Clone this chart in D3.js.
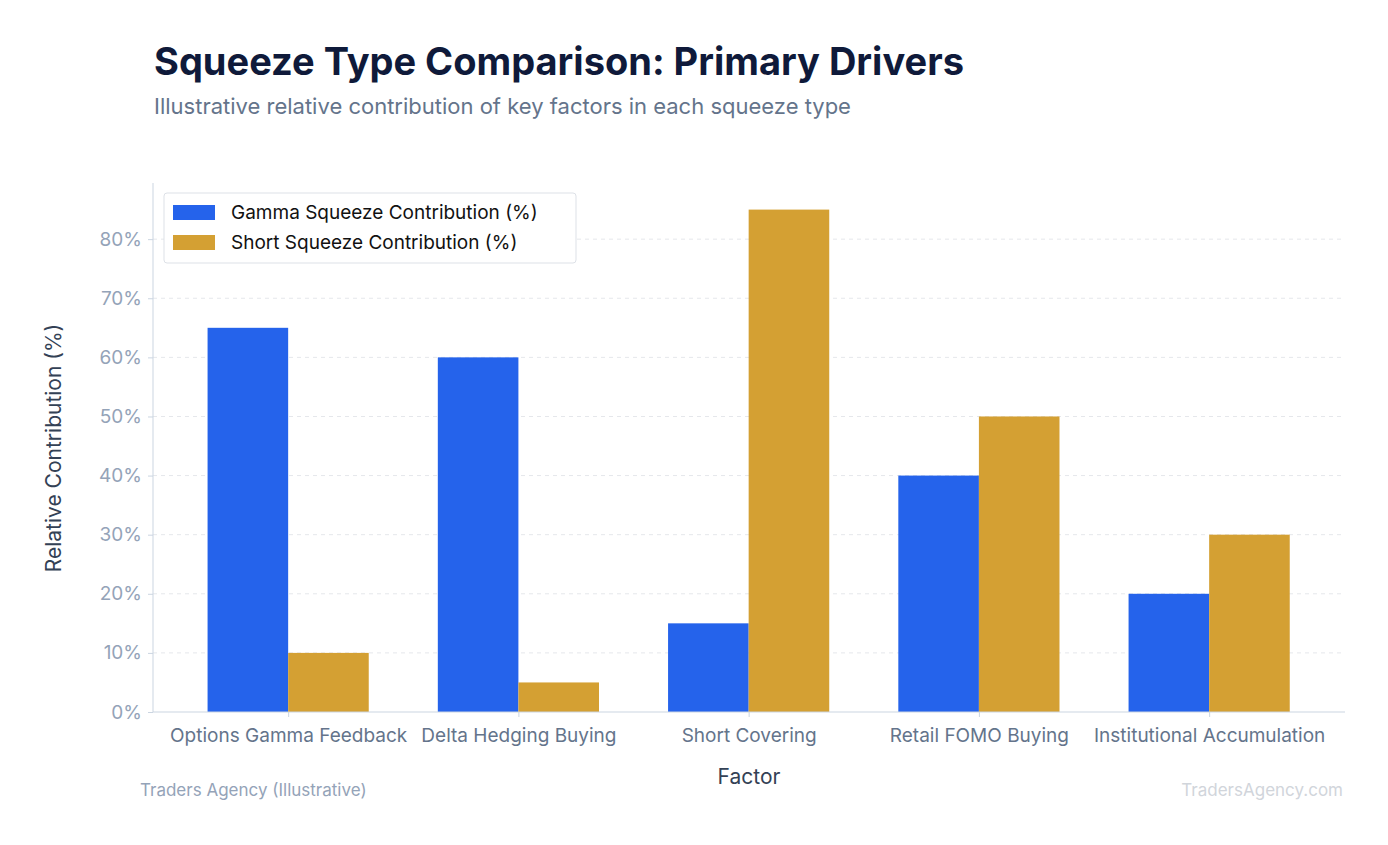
<!DOCTYPE html><html><head><meta charset="utf-8"><script src="https://cdn.jsdelivr.net/npm/d3@7"></script>
<style>body{margin:0;background:#fff}text{font-family:Inter,"DejaVu Sans",sans-serif}</style></head><body>
<svg id="c" width="1388" height="845"></svg>
<script>
const categories=["Options Gamma Feedback","Delta Hedging Buying","Short Covering","Retail FOMO Buying","Institutional Accumulation"];
const gammaValues=[65,60,15,40,20];
const shortValues=[10,5,85,50,30];
const yTicks=[0,10,20,30,40,50,60,70,80];
const seriesNames=["Gamma Squeeze Contribution (%)","Short Squeeze Contribution (%)"];
const colors=["#2563eb","#d4a033"];
const svg=d3.select("#c");
const L=153,R=1345,T=183,B=712;
const x=d3.scaleLinear().domain([-0.587,4.59]).range([L,R]);
const y=d3.scaleLinear().domain([0,89.5]).range([B,T]);
const bw=0.35;
svg.append("text").attr("x",154).attr("y",75).attr("font-size",38).attr("font-weight",700).attr("fill","#0f1a3a").text("Squeeze Type Comparison: Primary Drivers");
svg.append("text").attr("x",154).attr("y",114).attr("font-size",22).attr("fill","#64748b").text("Illustrative relative contribution of key factors in each squeeze type");
svg.append("g").selectAll("line").data(yTicks.slice(1)).join("line").attr("x1",L).attr("x2",R).attr("y1",d=>y(d)).attr("y2",d=>y(d)).attr("stroke","#e5e7eb").attr("stroke-dasharray","4,4");
[gammaValues,shortValues].forEach((vals,s)=>{
 svg.append("g").selectAll("rect").data(vals).join("rect")
 .attr("x",(d,i)=>x(i+(s===0?-bw:0))).attr("width",x(bw)-x(0)).attr("y",d=>y(d)).attr("height",d=>B-y(d)).attr("fill",colors[s]);
});
const ya=svg.append("g").attr("transform",`translate(${L},0)`).call(d3.axisLeft(y).tickValues(yTicks).tickFormat(d=>d+"%").tickSize(5).tickPadding(6));
ya.selectAll("text").attr("font-size",19).attr("fill","#94a3b8");
ya.select(".domain").attr("stroke","#cbd5e1").attr("d",`M0,${T}V${B}`);ya.selectAll(".tick line").attr("stroke","#cbd5e1");
const xa=svg.append("g").attr("transform",`translate(0,${B})`).call(d3.axisBottom(x).tickValues(d3.range(5)).tickFormat(i=>categories[i]).tickSize(5).tickPadding(12));
xa.selectAll("text").attr("font-size",19).attr("fill","#64748b");
xa.select(".domain").attr("stroke","#cbd5e1").attr("d",`M${L},0H${R}`);xa.selectAll(".tick line").attr("stroke","#cbd5e1");
svg.append("text").attr("x",749).attr("y",784).attr("text-anchor","middle").attr("font-size",21).attr("fill","#334155").text("Factor");
svg.append("text").attr("transform","translate(61,448) rotate(-90)").attr("text-anchor","middle").attr("font-size",21).attr("fill","#334155").text("Relative Contribution (%)");
const lg=svg.append("g");
lg.append("rect").attr("x",164).attr("y",193).attr("width",412).attr("height",70).attr("rx",3).attr("fill","#fff").attr("stroke","#dde1e7");
seriesNames.forEach((n,i)=>{lg.append("rect").attr("x",173).attr("y",205+i*30).attr("width",42).attr("height",15).attr("fill",colors[i]);
lg.append("text").attr("x",231).attr("y",219+i*30).attr("font-size",19).attr("fill","#111").text(n);});
svg.append("text").attr("x",140).attr("y",796).attr("font-size",17).attr("fill","#94a3b8").text("Traders Agency (Illustrative)");
svg.append("text").attr("x",1343).attr("y",796).attr("text-anchor","end").attr("font-size",17).attr("fill","#d1d5db").text("TradersAgency.com");
</script></body></html>
